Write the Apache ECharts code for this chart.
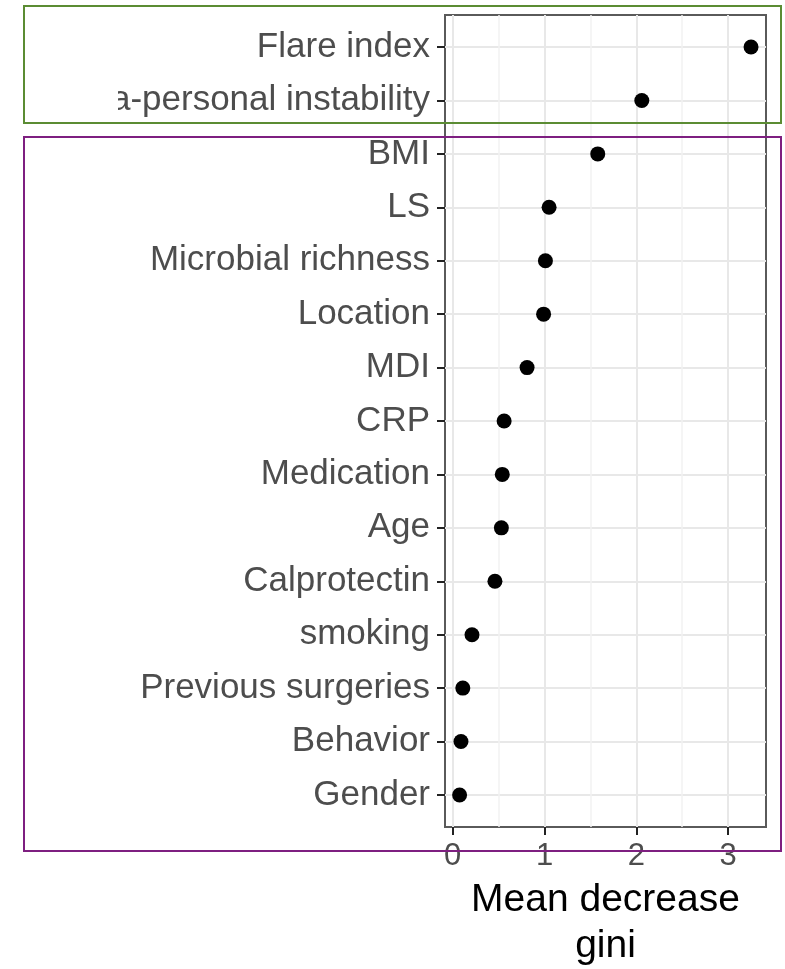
<!DOCTYPE html>
<html>
<head>
<meta charset="utf-8">
<script src="https://cdn.jsdelivr.net/npm/echarts@6/dist/echarts.min.js"></script>
<style>
  html, body { margin: 0; padding: 0; background: #ffffff; }
  #chart { width: 785px; height: 969px; }
</style>
</head>
<body>
<div id="chart"></div>
<script>
// Variables, bottom row first (same order as the factor levels)
const variables = [
  'Gender', 'Behavior', 'Previous surgeries', 'smoking', 'Calprotectin',
  'Age', 'Medication', 'CRP', 'MDI', 'Location',
  'Microbial richness', 'LS', 'BMI', 'Intra-personal instability', 'Flare index'
];
// Mean decrease in Gini for each variable
const meanDecreaseGini = [
  0.075, 0.09, 0.11, 0.21, 0.46,
  0.53, 0.54, 0.56, 0.81, 0.99,
  1.01, 1.05, 1.58, 2.06, 3.25
];
const xMajorTicks = [0, 1, 2, 3];
const xMinorTicks = [0.5, 1.5, 2.5];

// x range padded 5% beyond the data, y range padded 0.6 rows
const xMin = -0.084, xMax = 3.413;
const rowIndex = variables.map((_, i) => i);

const points = meanDecreaseGini.map((v, i) => [v, i]);

const chart = echarts.init(document.getElementById('chart'), null, { renderer: 'canvas' });

const font = 'Liberation Sans, Arial, sans-serif';

chart.setOption({
  animation: false,
  backgroundColor: '#ffffff',
  grid: {
    left: 445, right: 19, top: 15, bottom: 142,
    outerBoundsMode: 'none', containLabel: false,
    show: true, borderColor: '#5a5a5a', borderWidth: 2, backgroundColor: '#ffffff'
  },
  xAxis: [
    {
      type: 'value', min: xMin, max: xMax, position: 'bottom',
      axisLine: { show: false, onZero: false },
      axisTick: { show: true, customValues: xMajorTicks, length: 8, lineStyle: { color: '#222', width: 2 } },
      axisLabel: {
        customValues: xMajorTicks, margin: 14,
        color: '#4d4d4d', fontSize: 31, fontFamily: font
      },
      splitLine: { show: true, lineStyle: { color: '#e8e8e8', width: 2 } },
      name: 'Mean decrease\ngini', nameLocation: 'middle', nameGap: 43,
      nameTextStyle: { color: '#000', fontSize: 39, lineHeight: 46, fontFamily: font }
    },
    {
      type: 'value', min: xMin, max: xMax, position: 'bottom',
      axisLine: { show: false, onZero: false },
      axisTick: { show: false, customValues: xMinorTicks },
      axisLabel: { show: false, customValues: xMinorTicks },
      splitLine: { show: true, lineStyle: { color: '#f2f2f2', width: 1.5 } }
    }
  ],
  yAxis: {
    type: 'value', min: -0.6, max: 14.6, position: 'left',
    axisLine: { show: false, onZero: false },
    axisTick: { show: true, customValues: rowIndex, length: 8, lineStyle: { color: '#222', width: 2 } },
    axisLabel: {
      customValues: rowIndex, margin: 15,
      formatter: v => variables[Math.round(v)],
      color: '#4d4d4d', fontSize: 35, fontFamily: font
    },
    splitLine: { show: true, lineStyle: { color: '#e8e8e8', width: 2 } }
  },
  series: [{
    type: 'scatter',
    data: points,
    symbol: 'circle',
    symbolSize: 15,
    itemStyle: { color: '#000000', opacity: 1 },
    z: 5
  }],
  graphic: [
    // white band that trims the long label at the left
    { type: 'rect', z: 100, shape: { x: 25, y: 76, width: 93, height: 45 }, style: { fill: '#ffffff' } },
    // highlight frames
    { type: 'rect', z: 101, shape: { x: 24, y: 6, width: 757, height: 117 },
      style: { fill: 'none', stroke: '#5b8c33', lineWidth: 2 } },
    { type: 'rect', z: 101, shape: { x: 24, y: 137, width: 757, height: 714 },
      style: { fill: 'none', stroke: '#7e1f80', lineWidth: 2 } }
  ]
});
</script>
</body>
</html>
